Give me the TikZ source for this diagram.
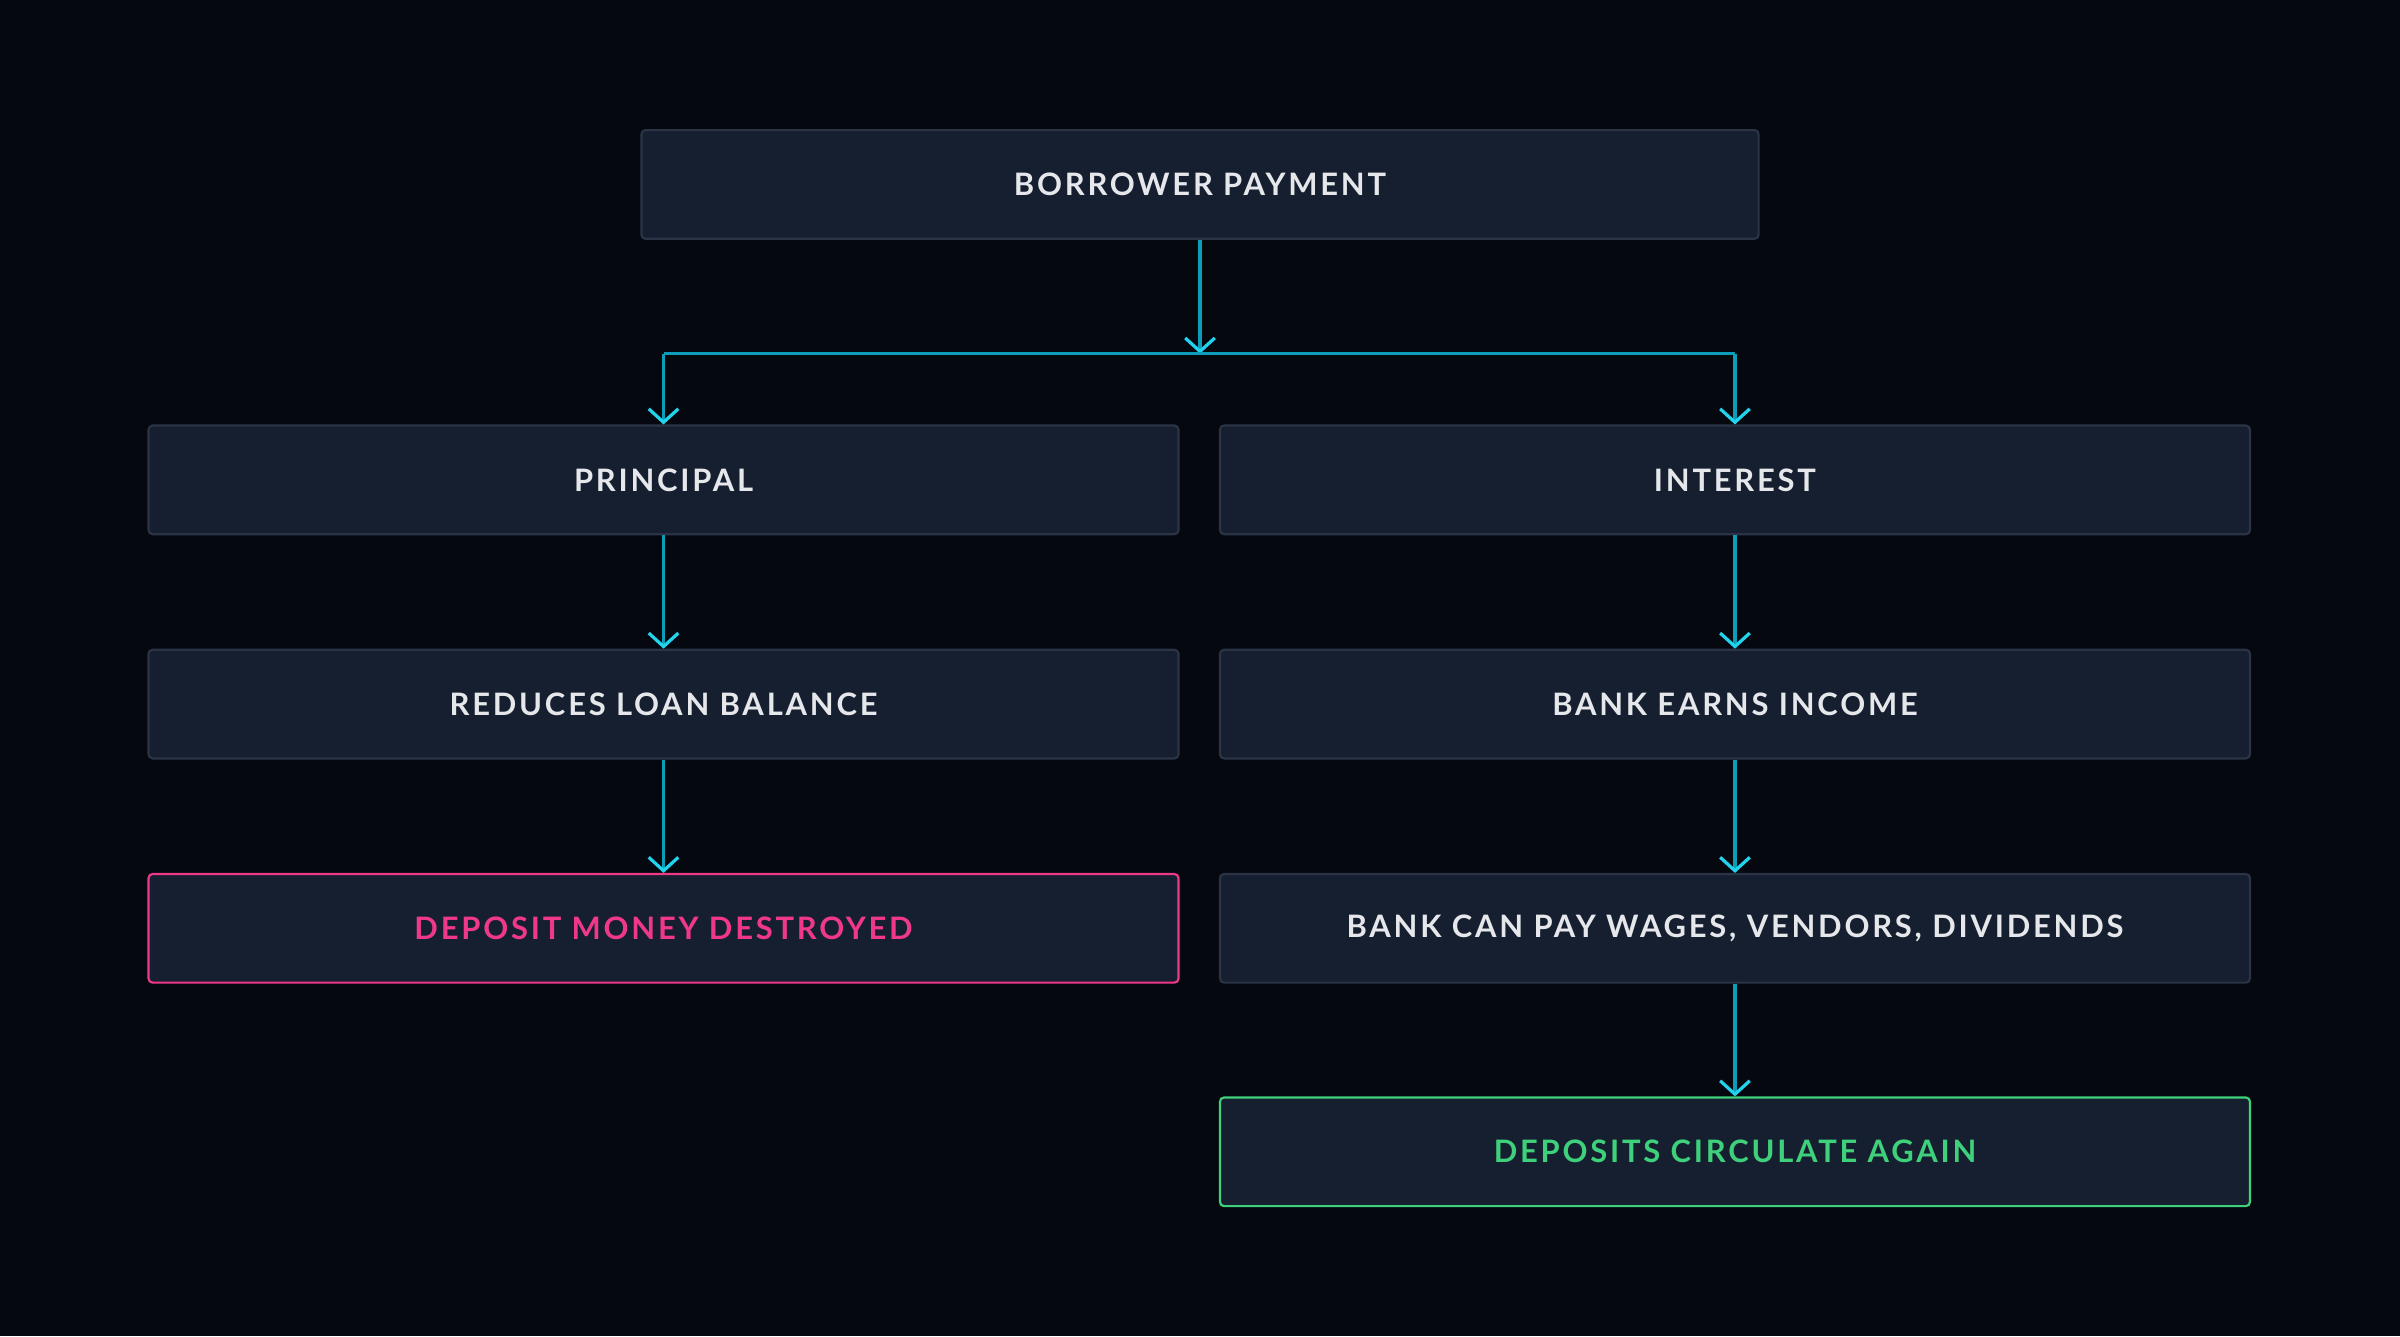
\documentclass[tikz,border=0pt]{standalone}
\usepackage{fontspec}
\setmainfont{Lato}[LetterSpace=9]
\usetikzlibrary{arrows.meta,positioning}
\definecolor{bgc}{HTML}{06080F}
\definecolor{boxc}{HTML}{161F30}
\definecolor{edgec}{HTML}{2A3446}
\definecolor{linec}{HTML}{0E9DB8}
\definecolor{tipc}{HTML}{22D3EE}
\definecolor{txtc}{HTML}{E5E7EB}
\definecolor{pinkc}{HTML}{F0388A}
\definecolor{greenc}{HTML}{3ED07A}
\begin{document}
\begin{tikzpicture}[x=0.02cm, y=-0.02cm,
box/.style={draw=edgec, fill=boxc, rounded corners=1.5pt, line width=0.8pt, minimum width=13.46cm, minimum height=1.42cm, inner sep=0pt, text=txtc, font=\bfseries\fontsize{11.5}{13}\selectfont},
flow/.style={draw=linec, line width=1.2pt, -{Straight Barb[length=5pt,width=11pt,color=tipc]}}]

\fill[bgc] (0,0) rectangle (1568,873);
\useasboundingbox (0,0) rectangle (1568,873);

\node[box, minimum width=14.6cm] (pay) at (784,120.5) {BORROWER PAYMENT};
\node[box] (prin) at (433.5,313.5) {PRINCIPAL};
\node[box] (intr) at (1133.5,313.5) {INTEREST};
\node[box] (red) at (433.5,460) {REDUCES LOAN BALANCE};
\node[box] (earn) at (1133.5,460) {BANK EARNS INCOME};
\node[box, draw=pinkc, text=pinkc] (dest) at (433.5,606.5) {DEPOSIT MONEY DESTROYED};
\node[box] (wage) at (1133.5,606.5) {BANK CAN PAY WAGES, VENDORS, DIVIDENDS};
\node[box, draw=greenc, text=greenc] (circ) at (1133.5,752.5) {DEPOSITS CIRCULATE AGAIN};

\coordinate (split) at (784,231);
\coordinate (splitL) at (433.5,231);
\coordinate (splitR) at (1133.5,231);

\draw[flow] (pay) -- (split);
\draw[draw=linec, line width=1.2pt] (splitL) -- (splitR);
\draw[flow] (splitL) -- (prin);
\draw[flow] (splitR) -- (intr);
\draw[flow] (prin) -- (red);
\draw[flow] (red) -- (dest);
\draw[flow] (intr) -- (earn);
\draw[flow] (earn) -- (wage);
\draw[flow] (wage) -- (circ);
\end{tikzpicture}
\end{document}
